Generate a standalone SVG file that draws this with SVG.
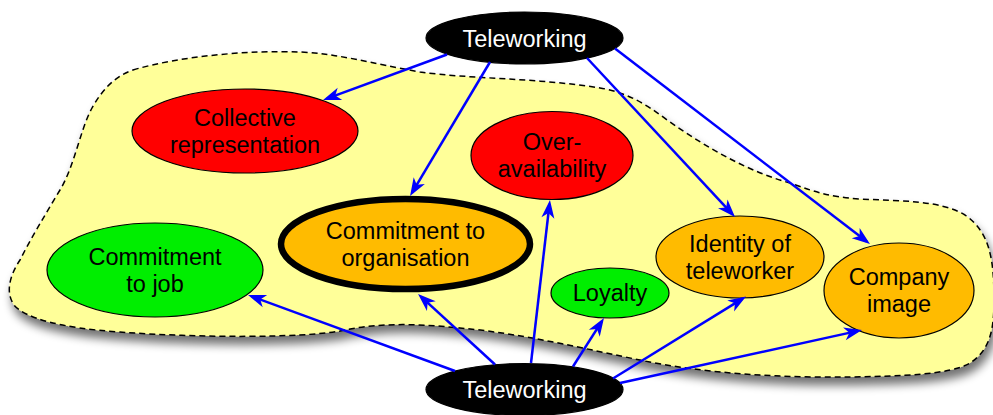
<svg xmlns="http://www.w3.org/2000/svg" width="993" height="415" viewBox="0 0 993 415">
<style>
.lbl{font-family:"Liberation Sans",Arial,Helvetica,sans-serif;font-size:23.5px;text-anchor:middle;fill:#000}
.tw{fill:#fff}
.node{stroke:#000;stroke-width:1.2}
.red{fill:#ff0000}
.green{fill:#00ee00}
.orange{fill:#ffbb00}
.black{fill:#000}
.edge{fill:none;stroke:#0000ff;stroke-width:2.5;marker-end:url(#arr)}
.blob{fill:#ffff99;stroke:#000;stroke-width:1.5;stroke-dasharray:6 4}
</style>
<defs>
<marker id="arr" markerUnits="userSpaceOnUse" viewBox="-18 -8 24 16" markerWidth="24" markerHeight="16" refX="0" refY="0" orient="auto">
<path d="M4,0 L-14,-6.5 L-9,0 L-14,6.5 Z" fill="#0000ff"/>
</marker>
<filter id="shadow" x="-10%" y="-10%" width="120%" height="130%">
<feGaussianBlur in="SourceAlpha" stdDeviation="5"/>
<feOffset dx="3" dy="8" result="b"/>
<feComponentTransfer><feFuncA type="linear" slope="0.55"/></feComponentTransfer>
<feMerge><feMergeNode/><feMergeNode in="SourceGraphic"/></feMerge>
</filter>
</defs>
<g id="region">
<path class="blob" filter="url(#shadow)" d="M133,70 C180,56 250,50 300,52 C340,54 370,63 420,72 C470,79 540,78 600,88 C625,92 645,103 667,120 C710,150 750,172 790,183 C815,192 830,197 860,199 C900,201 940,200 965,215 C990,232 994,260 994,300 C994,330 990,350 970,363 C950,375 900,376 850,377 C780,378 700,373 640,360 C590,350 520,333 460,328 C420,324 380,322 340,331 C300,338 200,338 120,332 C60,328 25,318 14,305 C5,292 10,275 20,260 C30,240 45,215 60,190 C75,165 80,130 92,108 C102,90 115,76 133,70 Z"/>
</g>
<g id="teleworking-top">
<ellipse class="node black" cx="524.5" cy="38" rx="98.5" ry="26"/>
<text class="lbl tw" x="524.5" y="46.5">Teleworking</text>
</g>
<g id="collective-representation">
<ellipse class="node red" cx="245" cy="131" rx="113" ry="42"/>
<text class="lbl" x="245" y="126">Collective</text>
<text class="lbl" x="245" y="153">representation</text>
</g>
<g id="over-availability">
<ellipse class="node red" cx="552" cy="155.5" rx="81" ry="44"/>
<text class="lbl" x="552" y="150.4">Over-</text>
<text class="lbl" x="552" y="177.4">availability</text>
</g>
<g id="commitment-job">
<ellipse class="node green" cx="155" cy="270" rx="108" ry="47"/>
<text class="lbl" x="155" y="265">Commitment</text>
<text class="lbl" x="155" y="292">to job</text>
</g>
<g id="commitment-organisation">
<ellipse class="orange" cx="405.5" cy="244" rx="124.5" ry="45" stroke="#000" stroke-width="6.5"/>
<text class="lbl" x="405.5" y="239">Commitment to</text>
<text class="lbl" x="405.5" y="266">organisation</text>
</g>
<g id="loyalty">
<ellipse class="node green" cx="610" cy="293" rx="59" ry="25"/>
<text class="lbl" x="610" y="301.4">Loyalty</text>
</g>
<g id="identity-teleworker">
<ellipse class="node orange" cx="740" cy="257" rx="84" ry="41"/>
<text class="lbl" x="740" y="252">Identity of</text>
<text class="lbl" x="740" y="279">teleworker</text>
</g>
<g id="company-image">
<ellipse class="node orange" cx="899" cy="290.5" rx="75" ry="47.5"/>
<text class="lbl" x="899" y="285.4">Company</text>
<text class="lbl" x="899" y="312.4">image</text>
</g>
<g id="teleworking-bottom">
<ellipse class="node black" cx="524.5" cy="389.5" rx="98.5" ry="26"/>
<text class="lbl tw" x="524.5" y="398">Teleworking</text>
</g>
<g id="connectors">
<line class="edge" x1="447" y1="54.5" x2="326.8" y2="98.6"/>
<line class="edge" x1="490" y1="62" x2="412.1" y2="192.6"/>
<line class="edge" x1="587" y1="58" x2="732.3" y2="214.1"/>
<line class="edge" x1="615" y1="48.5" x2="866.8" y2="241.6"/>
<line class="edge" x1="455" y1="371" x2="251.8" y2="296.4"/>
<line class="edge" x1="495" y1="364.5" x2="421" y2="296.7"/>
<line class="edge" x1="531" y1="363" x2="549.5" y2="204"/>
<line class="edge" x1="573" y1="366.5" x2="601.8" y2="321.4"/>
<line class="edge" x1="613" y1="378.5" x2="742.6" y2="298.6"/>
<line class="edge" x1="620" y1="383" x2="858.1" y2="330.9"/>
</g>
</svg>
